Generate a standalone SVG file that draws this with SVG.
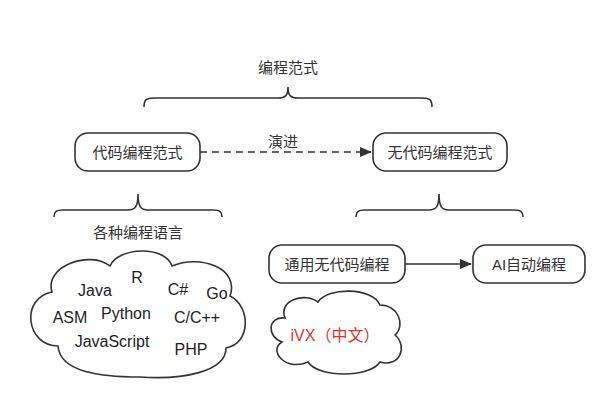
<svg xmlns="http://www.w3.org/2000/svg" width="611" height="401" viewBox="0 0 611 401">
<defs>
<marker id="ah" markerWidth="12" markerHeight="10" refX="11" refY="5" orient="auto" markerUnits="userSpaceOnUse">
<path d="M0,0 L12,5 L0,10 Z" fill="#333"/>
</marker>
<style>
.box{fill:#fff;stroke:#333;stroke-width:1.6}
.ln{fill:none;stroke:#333;stroke-width:1.6}
.t{font-family:"Liberation Sans","Noto Sans CJK SC",sans-serif;font-size:15px;fill:#333;text-anchor:middle;dominant-baseline:central}
.l{font-family:"Liberation Sans","Noto Sans CJK SC",sans-serif;font-size:16px;fill:#222;text-anchor:middle;dominant-baseline:central}
.red{fill:#e8302a;font-size:16px}
</style>
</defs>
<rect width="611" height="401" fill="#fff"/>
<g id="title"><text class="t" x="288" y="67">编程范式</text></g>
<g id="brace-top"><path class="ln" d="M144,107 C144,100 146,98 154,98 L278,98 C285,98 288,96 288,87 C288,96 291,98 298,98 L422,98 C430,98 432,100 432,107"/></g>
<g id="code"><rect class="box" x="75" y="133" width="125" height="38" rx="13"/><text class="t" x="137.5" y="152">代码编程范式</text></g>
<g id="nocode"><rect class="box" x="373" y="133" width="134" height="38" rx="13"/><text class="t" x="440" y="152">无代码编程范式</text></g>
<g id="brace-left"><path class="ln" d="M54,217 C54,212 56,210 63,210 L128,210 C135,210 138,207 138,194 C138,207 141,210 148,210 L213,210 C220,210 222,212 222,217"/></g>
<g id="brace-right"><path class="ln" d="M356,217 C356,212 358,210 365,210 L429,210 C436,210 439,207 439,194 C439,207 442,210 449,210 L514,210 C521,210 523,212 523,217"/></g>
<g id="langs-label"><text class="t" x="138" y="232">各种编程语言</text></g>
<g id="general"><rect class="box" x="269" y="245" width="136" height="38" rx="13"/><text class="t" x="337" y="264">通用无代码编程</text></g>
<g id="ai"><rect class="box" x="473" y="245" width="112" height="38" rx="13"/><text class="t" x="529" y="264">AI自动编程</text></g>
<g id="cloud-langs">
<path class="ln" d="M52,292 C44,266 90,250 110,266 C118,247 165,245 172,266 C200,254 240,268 230,296 C251,306 251,344 226,348 C226,372 182,380 140,377 C100,377 60,372 58,346 C26,346 20,298 52,292 Z"/>
<text class="l" x="95" y="290">Java</text>
<text class="l" x="137" y="277">R</text>
<text class="l" x="178" y="289">C#</text>
<text class="l" x="217" y="293">Go</text>
<text class="l" x="70" y="317">ASM</text>
<text class="l" x="126" y="313">Python</text>
<text class="l" x="197" y="317">C/C++</text>
<text class="l" x="112" y="341">JavaScript</text>
<text class="l" x="191" y="349">PHP</text>
</g>
<g id="cloud-ivx">
<path class="ln" d="M285,318 C278,300 305,292 318,302 C328,287 372,287 380,305 C398,305 406,325 395,335 C408,346 400,368 380,362 C370,378 318,378 308,362 C285,372 268,350 282,342 C266,336 268,316 285,318 Z"/>
<text class="t red" x="335" y="335">iVX（中文）</text>
</g>
<g id="connectors">
<path class="ln" d="M200,152 L371,152" stroke-dasharray="7 5" stroke-width="2" marker-end="url(#ah)"/>
<text class="t" x="283" y="141">演进</text>
<path class="ln" d="M405,264 L471,264" marker-end="url(#ah)"/>
</g>
</svg>
